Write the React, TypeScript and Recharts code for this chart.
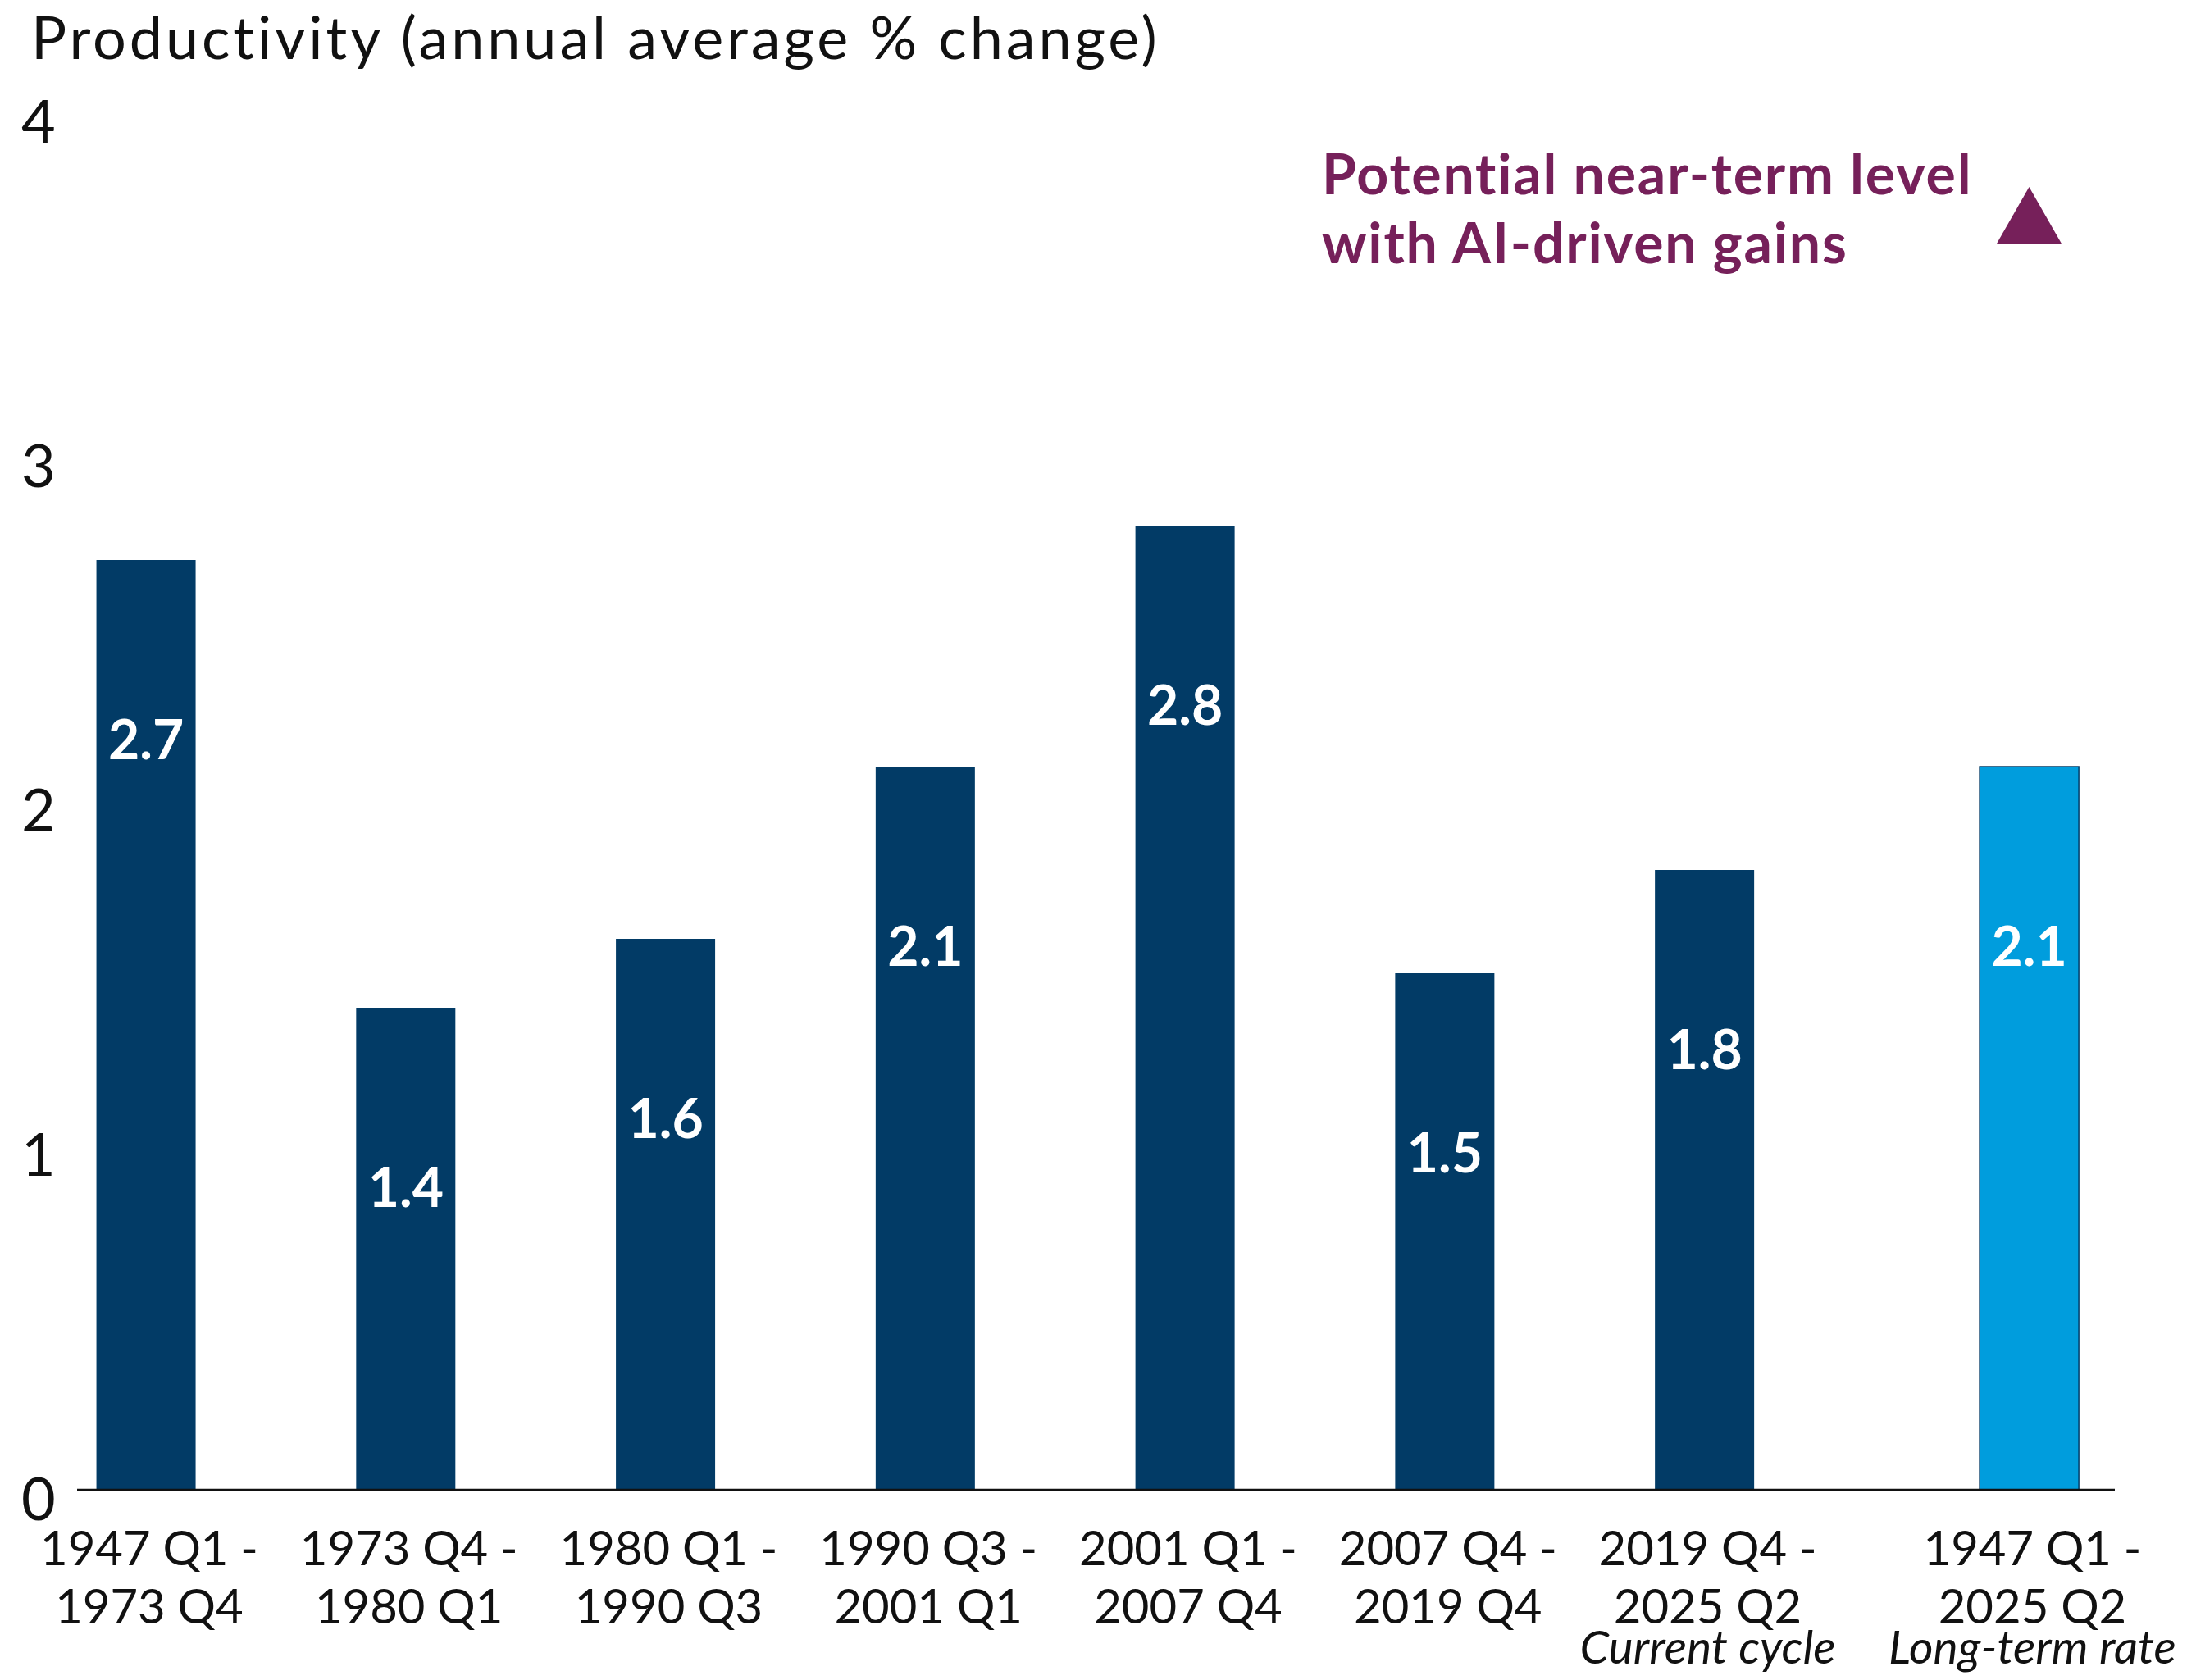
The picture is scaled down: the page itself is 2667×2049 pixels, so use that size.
import React from "react";
import { ComposedChart, Bar, Scatter, XAxis, YAxis, Cell, LabelList } from "recharts";

// ---- data ----
const periodStart = ["1947 Q1 -", "1973 Q4 -", "1980 Q1 -", "1990 Q3 -", "2001 Q1 -", "2007 Q4 -", "2019 Q4 -", "1947 Q1 -"];
const periodEnd = ["1973 Q4", "1980 Q1", "1990 Q3", "2001 Q1", "2007 Q4", "2019 Q4", "2025 Q2", "2025 Q2"];
const periodNote = ["", "", "", "", "", "", "Current cycle", "Long-term rate"];
const productivity = [2.7, 1.4, 1.6, 2.1, 2.8, 1.5, 1.8, 2.1];
const isLongTerm = [false, false, false, false, false, false, false, true];
const aiPotentialLevel = 3.7;
const yTicks = [0, 1, 2, 3, 4];
const titleText = "Productivity (annual average % change)";
const legendLines = ["Potential near-term level", "with AI-driven gains"];

// ---- styling / layout ----
const W = 2667;
const H = 2049;
const FONT = "Lato, 'Open Sans', sans-serif";
const NAVY = "#023b66";
const LIGHT = "#009ddd";
const PURPLE = "#76205a";
const GROUP_GAP = 0.25;

const positions = productivity.map((_, i) => i + (isLongTerm[i] ? GROUP_GAP : 0));
const data = productivity.map((v, i) => ({ pos: positions[i], value: v }));
const potentialData = [{ pos: positions[positions.length - 1], potential: aiPotentialLevel }];

const XTick = (props: any) => {
  const { x, y, payload } = props;
  const i = positions.indexOf(payload.value);
  if (i < 0) return null;
  const cx = x + 4;
  return (
    <g>
      <text x={cx} y={y + 92} textAnchor="middle" fontFamily={FONT} fontSize={58} fill="#111">
        {periodStart[i]}
      </text>
      <text x={cx} y={y + 163} textAnchor="middle" fontFamily={FONT} fontSize={58} fill="#111">
        {periodEnd[i]}
      </text>
      {periodNote[i] ? (
        <text x={cx} y={y + 212} textAnchor="middle" fontFamily={FONT} fontStyle="italic" fontSize={57} fill="#111">
          {periodNote[i]}
        </text>
      ) : null}
    </g>
  );
};

const YTick = (props: any) => {
  const { x, y, payload } = props;
  return (
    <text x={x - 47} y={y + 37} textAnchor="middle" fontFamily={FONT} fontSize={72} fill="#111">
      {payload.value}
    </text>
  );
};

const ValueLabel = (props: any) => {
  const { x, y, width, value } = props;
  return (
    <text x={x + width / 2} y={y + 243} textAnchor="middle" fontFamily={FONT} fontWeight={700} fontSize={66} fill="#fff">
      {Number(value).toFixed(1)}
    </text>
  );
};

const Triangle = (props: any) => {
  const { cx, cy } = props;
  if (cx == null || cy == null || isNaN(cx) || isNaN(cy)) return null;
  const w = 80;
  const h = 70;
  return <polygon points={`${cx - w / 2},${cy + h / 2} ${cx},${cy - h / 2} ${cx + w / 2},${cy + h / 2}`} fill={PURPLE} />;
};

export default function App() {
  return (
    <div style={{ position: "absolute", left: 0, top: 0, width: W, height: H, background: "#fff" }}>
      <ComposedChart
        width={W}
        height={H}
        data={data}
        margin={{ top: 137, right: 88, bottom: 0, left: 0 }}
      >
        <XAxis
          dataKey="pos"
          type="number"
          domain={[-0.265, 7.58]}
          ticks={positions}
          interval={0}
          height={232}
          tickSize={0}
          tickMargin={0}
          axisLine={{ stroke: "#111", strokeWidth: 2.5 }}
          tickLine={false}
          tick={<XTick />}
          allowDataOverflow
        />
        <YAxis
          type="number"
          domain={[0, 4]}
          ticks={yTicks}
          width={94}
          tickSize={0}
          tickMargin={0}
          axisLine={false}
          tickLine={false}
          tick={<YTick />}
        />
        <Bar dataKey="value" barSize={121} isAnimationActive={false}>
          {data.map((_, i) => (
            <Cell
              key={i}
              fill={isLongTerm[i] ? LIGHT : NAVY}
              stroke={isLongTerm[i] ? NAVY : "none"}
              strokeWidth={isLongTerm[i] ? 1.5 : 0}
            />
          ))}
          <LabelList dataKey="value" content={<ValueLabel />} />
        </Bar>
        <Scatter data={potentialData} dataKey="potential" shape={<Triangle />} isAnimationActive={false} />
      </ComposedChart>
      <svg width={W} height={H} style={{ position: "absolute", left: 0, top: 0, pointerEvents: "none" }}>
        <text x={38} y={72} fontFamily={FONT} fontSize={72} letterSpacing={3.9} fill="#111">
          {titleText}
        </text>
        {legendLines.map((t, i) => (
          <text key={i} x={1612} y={237 + i * 84} fontFamily={FONT} fontWeight={700} fontSize={68} letterSpacing={1.8} fill={PURPLE}>
            {t}
          </text>
        ))}
      </svg>
    </div>
  );
}
